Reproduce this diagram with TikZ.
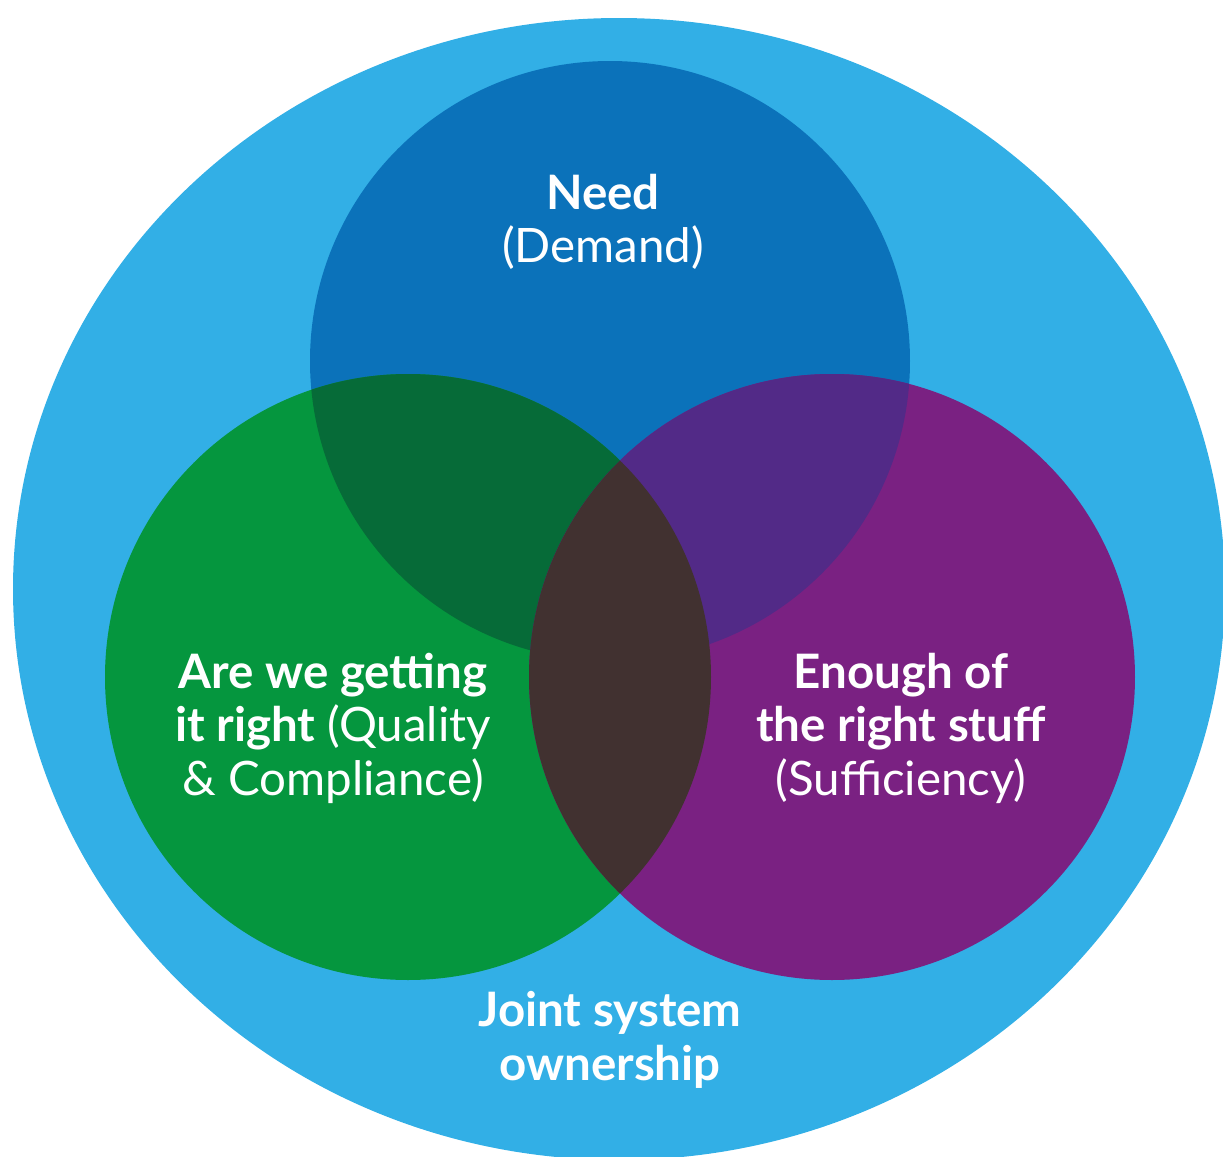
\documentclass[tikz,border=0pt]{standalone}
\usepackage{fontspec}
\setmainfont{Lato}
\definecolor{ownblue}{HTML}{32AFE6}
\definecolor{needblue}{HTML}{0B72BA}
\definecolor{qualgreen}{HTML}{05963E}
\definecolor{suffpurple}{HTML}{7A2182}
\definecolor{needqual}{HTML}{066B38}
\definecolor{needsuff}{HTML}{522A87}
\definecolor{qualsuff}{HTML}{413130}
\tikzset{
  venntext/.style={text=white,align=center,font=\fontsize{13.5}{15.2}\selectfont},
}
\begin{document}
\begin{tikzpicture}[x=0.01cm,y=-0.01cm]
  \useasboundingbox (0,0) rectangle (1223,1157);

  % outer ring
  \fill[ownblue] (619,589) ellipse [x radius=606,y radius=571];

  % three sets
  \fill[needblue] (610,361) circle [radius=300];
  \fill[qualgreen] (408,677) circle [radius=303];
  \fill[suffpurple] (832,677) circle [radius=303];

  % overlaps
  \begin{scope}
    \clip (610,361) circle [radius=300];
    \fill[needqual] (408,677) circle [radius=303];
    \fill[needsuff] (832,677) circle [radius=303];
  \end{scope}
  \begin{scope}
    \clip (408,677) circle [radius=303];
    \fill[qualsuff] (832,677) circle [radius=303];
  \end{scope}

  \node[venntext] (need) at (603,222) {\textbf{Need}\\(Demand)};
  \node[venntext] (quality) at (333,728) {\textbf{Are we getting}\\\textbf{it right} (Quality\\\& Compliance)};
  \node[venntext] (sufficiency) at (901,728) {\textbf{Enough of}\\\textbf{the right stuff}\\(Sufficiency)};
  \node[venntext] (joint) at (610,1040) {\textbf{Joint system}\\\textbf{ownership}};
\end{tikzpicture}
\end{document}
